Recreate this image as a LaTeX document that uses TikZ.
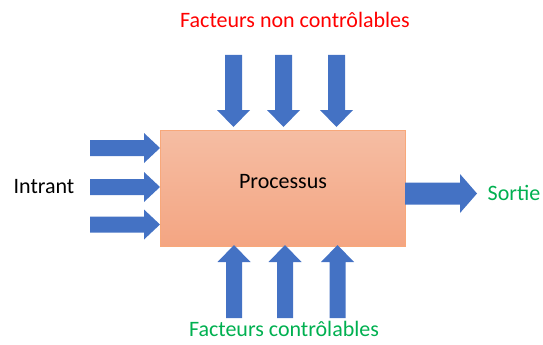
\documentclass[tikz,border=0pt]{standalone}
\usepackage{fontspec}
\setmainfont{Carlito}
\definecolor{arrowblue}{HTML}{4472C4}
\definecolor{boxtop}{HTML}{F5BDA3}
\definecolor{boxbot}{HTML}{F4A582}
\definecolor{boxedge}{HTML}{F8A87A}
\definecolor{redtxt}{HTML}{FF0000}
\definecolor{greentxt}{HTML}{00B050}
\begin{document}
\begin{tikzpicture}[x=1pt,y=-1pt,
  lbl/.style={inner sep=0pt,font=\fontsize{22}{26}\selectfont},
  pics/blockarrow/.style args={#1/#2/#3/#4}{code={
    \fill[arrowblue] (0,-#3)--(#1,-#3)--(#1,-#4)--(#1+#2,0)--(#1,#4)--(#1,#3)--(0,#3)--cycle;}}]
\useasboundingbox (0,0) rectangle (543,345);
% process box
\node[draw=boxedge,line width=0.8pt,top color=boxtop,bottom color=boxbot,
  minimum width=245pt,minimum height=116pt,inner sep=0pt,anchor=north west] (proc) at (160,130) {};
\node[lbl] (proclbl) at (283,182) {Processus};
% left arrows
\pic at (90,148) {blockarrow=54/16/8/15};
\pic at (90,187) {blockarrow=54/16/8/15};
\pic at (90,224.5) {blockarrow=54/16/8/15};
% right arrow
\pic at (405,193.5) {blockarrow=55/17/11/19.5};
% top arrows (down)
\pic[rotate=-90] at (233.5,55) {blockarrow=55/17/8.5/16.5};
\pic[rotate=-90] at (283.5,55) {blockarrow=55/17/8.5/16.5};
\pic[rotate=-90] at (336.5,55) {blockarrow=55/17/8.5/16.5};
% bottom arrows (up)
\pic[rotate=90] at (234,318) {blockarrow=56/17/8/16.5};
\pic[rotate=90] at (285,318) {blockarrow=56/17/8/16.5};
\pic[rotate=90] at (337.5,318) {blockarrow=56/17/8/16.5};
% labels
\node[lbl,text=redtxt] (unc) at (295,20) {Facteurs non contrôlables};
\node[lbl,text=greentxt] (ctl) at (284,329) {Facteurs contrôlables};
\node[lbl] (in) at (44,187) {Intrant};
\node[lbl,text=greentxt] (out) at (514,193) {Sortie};
\end{tikzpicture}
\end{document}
